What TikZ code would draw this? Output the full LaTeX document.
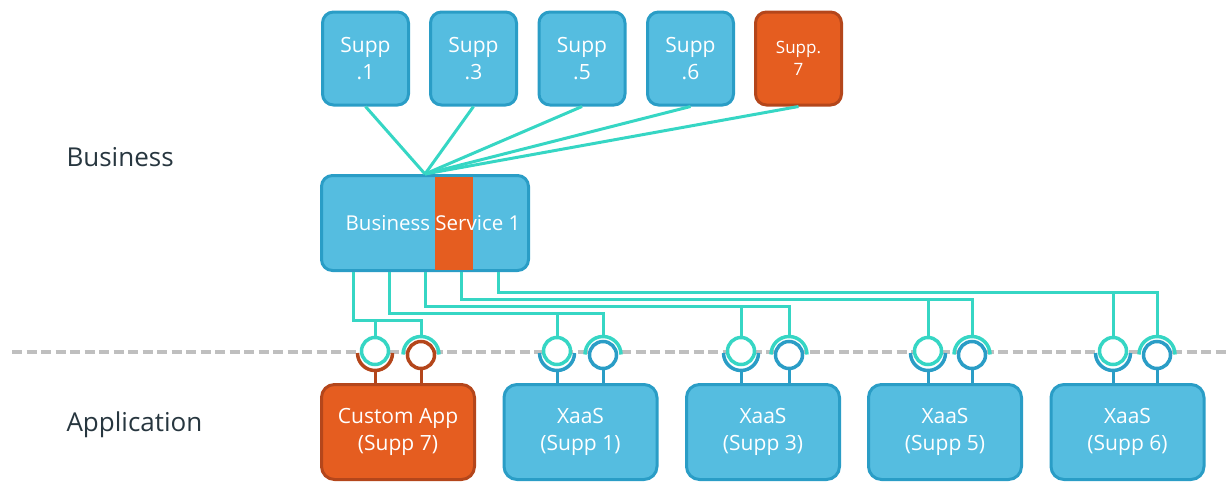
\documentclass[tikz,border=0pt]{standalone}
\usepackage{fontspec}
\setmainfont{Open Sans}
\usetikzlibrary{calc,positioning}
\definecolor{archBlue}{HTML}{55BDE0}
\definecolor{archBlueEdge}{HTML}{2A9DC6}
\definecolor{archOrange}{HTML}{E55D20}
\definecolor{archOrangeEdge}{HTML}{B4461B}
\definecolor{archTeal}{HTML}{36D6C4}
\definecolor{archGrey}{HTML}{BFBFBF}
\definecolor{archInk}{HTML}{27363F}

\begin{document}
\begin{tikzpicture}[x=1pt,y=-1pt,
    every node/.style={font=\fontsize{21}{27}\selectfont, text=white, align=center},
    card/.style={draw=archBlueEdge, fill=archBlue, line width=3pt, rounded corners=11pt},
    hotcard/.style={card, draw=archOrangeEdge, fill=archOrange},
    supp/.style={minimum width=86pt, minimum height=93pt},
    app/.style={minimum width=153pt, minimum height=95pt, rounded corners=13pt},
    layer/.style={anchor=west, text=archInk, font=\fontsize{26}{30}\selectfont},
    ring/.style={circle, minimum size=27pt, inner sep=0pt, line width=3.5pt, fill=white},
    cup/.style={line width=3.5pt},
    wire/.style={archTeal, line width=3pt},
    stub/.style={line width=3pt}]
  \useasboundingbox (0,0) rectangle (1228,482);

  % layer split and layer names
  \draw[archGrey, line width=4pt, dash pattern=on 10pt off 4.5pt] (12,352) -- (1228,352);
  \node[layer] (lbus) at (63,157) {Business};
  \node[layer] (lapp) at (63,425) {Application};

  % suppliers
  \node[card, supp] (s1) at (365.5,58.5) {Supp\\.1};
  \node[card, supp] (s3) at (473.5,58.5) {Supp\\.3};
  \node[card, supp] (s5) at (582,58.5) {Supp\\.5};
  \node[card, supp] (s6) at (690.5,58.5) {Supp\\.6};
  \node[hotcard, supp, font=\fontsize{17}{22}\selectfont] (s7) at (798.5,58.5) {Supp.\\7};

  % business service, supp 7 slice on top
  \node[card, minimum width=207pt, minimum height=95pt] (bs) at (425,223) {};
  \fill[archOrange] (435,177) rectangle (473,269.5);
  \node[font=\fontsize{20.5}{25}\selectfont] (bslabel) at (433,223) {Business Service 1};

  \draw[wire] (bs.north) -- (s1.south);
  \draw[wire] (bs.north) -- (s3.south);
  \draw[wire] (bs.north) -- (s5.south);
  \draw[wire] (bs.north) -- (s6.south);
  \draw[wire] (bs.north) -- (s7.south);

  % applications
  \node[hotcard, app] (app7) at (398,432) {Custom App\\(Supp 7)};
  \node[card, app] (x1) at (580.5,432) {XaaS\\(Supp 1)};
  \node[card, app] (x3) at (763,432) {XaaS\\(Supp 3)};
  \node[card, app] (x5) at (945,432) {XaaS\\(Supp 5)};
  \node[card, app] (x6) at (1127.5,432) {XaaS\\(Supp 6)};

  % custom app interfaces
  \node[ring, draw=archTeal] (p1) at (375,351) {};
  \node[ring, draw=archOrangeEdge] (q1) at (421,355) {};
  \draw[cup, archOrangeEdge] ($(p1)+(-17.5,2)$) arc[start angle=180, end angle=360, radius=17.5pt];
  \draw[cup, archTeal] ($(q1)+(-18,-0.5)$) arc[start angle=180, end angle=0, radius=18pt];
  \coordinate (q1top) at ($(q1)+(0,-18.5)$);
  \draw[wire] ([xshift=-72pt]bs.south) -- ++(0,48) -| (q1top);
  \draw[wire] (p1.north) -- (p1.north |- 0,320);
  \draw[stub, archOrangeEdge] ($(p1)+(0,19.5)$) -- (p1 |- app7.north);
  \draw[stub, archOrangeEdge] (q1.south) -- (q1 |- app7.north);

  % xaas supp 1
  \node[ring, draw=archTeal] (p2) at (557,351) {};
  \node[ring, draw=archBlueEdge] (q2) at (603,355) {};
  \draw[cup, archBlueEdge] ($(p2)+(-17.5,2)$) arc[start angle=180, end angle=360, radius=17.5pt];
  \draw[cup, archTeal] ($(q2)+(-18,-0.5)$) arc[start angle=180, end angle=0, radius=18pt];
  \coordinate (q2top) at ($(q2)+(0,-18.5)$);
  \draw[wire] ([xshift=-36pt]bs.south) -- ++(0,41) -| (q2top);
  \draw[wire] (p2.north) -- (p2.north |- 0,313);
  \draw[stub, archBlueEdge] ($(p2)+(0,19.5)$) -- (p2 |- x1.north);
  \draw[stub, archBlueEdge] (q2.south) -- (q2 |- x1.north);

  % xaas supp 3
  \node[ring, draw=archTeal] (p3) at (741,351) {};
  \node[ring, draw=archBlueEdge] (q3) at (789,355) {};
  \draw[cup, archBlueEdge] ($(p3)+(-17.5,2)$) arc[start angle=180, end angle=360, radius=17.5pt];
  \draw[cup, archTeal] ($(q3)+(-18,-0.5)$) arc[start angle=180, end angle=0, radius=18pt];
  \coordinate (q3top) at ($(q3)+(0,-18.5)$);
  \draw[wire] (bs.south) -- ++(0,34) -| (q3top);
  \draw[wire] (p3.north) -- (p3.north |- 0,306);
  \draw[stub, archBlueEdge] ($(p3)+(0,19.5)$) -- (p3 |- x3.north);
  \draw[stub, archBlueEdge] (q3.south) -- (q3 |- x3.north);

  % xaas supp 5
  \node[ring, draw=archTeal] (p4) at (928,351) {};
  \node[ring, draw=archBlueEdge] (q4) at (972,355) {};
  \draw[cup, archBlueEdge] ($(p4)+(-17.5,2)$) arc[start angle=180, end angle=360, radius=17.5pt];
  \draw[cup, archTeal] ($(q4)+(-18,-0.5)$) arc[start angle=180, end angle=0, radius=18pt];
  \coordinate (q4top) at ($(q4)+(0,-18.5)$);
  \draw[wire] ([xshift=36pt]bs.south) -- ++(0,27.5) -| (q4top);
  \draw[wire] (p4.north) -- (p4.north |- 0,299.5);
  \draw[stub, archBlueEdge] ($(p4)+(0,19.5)$) -- (p4 |- x5.north);
  \draw[stub, archBlueEdge] (q4.south) -- (q4 |- x5.north);

  % xaas supp 6
  \node[ring, draw=archTeal] (p5) at (1113,351) {};
  \node[ring, draw=archBlueEdge] (q5) at (1157,355) {};
  \draw[cup, archBlueEdge] ($(p5)+(-17.5,2)$) arc[start angle=180, end angle=360, radius=17.5pt];
  \draw[cup, archTeal] ($(q5)+(-18,-0.5)$) arc[start angle=180, end angle=0, radius=18pt];
  \coordinate (q5top) at ($(q5)+(0,-18.5)$);
  \draw[wire] ([xshift=73pt]bs.south) -- ++(0,20.5) -| (q5top);
  \draw[wire] (p5.north) -- (p5.north |- 0,292.5);
  \draw[stub, archBlueEdge] ($(p5)+(0,19.5)$) -- (p5 |- x6.north);
  \draw[stub, archBlueEdge] (q5.south) -- (q5 |- x6.north);
\end{tikzpicture}
\end{document}
